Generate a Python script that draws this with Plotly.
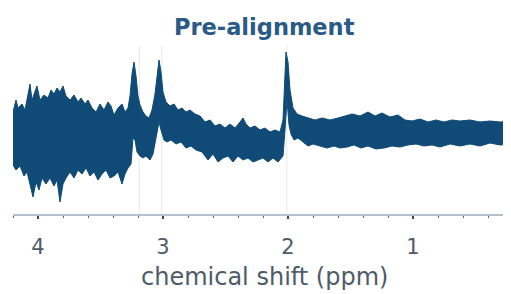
import plotly.graph_objects as go

# Upper envelope of the noisy spectrum (chemical shift in ppm, intensity a.u.)
upper_ppm = [4.200, 4.176, 4.160, 4.128, 4.104, 4.080, 4.064, 4.048, 4.024, 4.008,
             3.984, 3.952, 3.920, 3.896, 3.872, 3.848, 3.824, 3.800, 3.776, 3.744,
             3.712, 3.680, 3.656, 3.624, 3.600, 3.568, 3.536, 3.504, 3.472, 3.440,
             3.416, 3.392, 3.360, 3.328, 3.304, 3.280, 3.264, 3.248, 3.232, 3.216,
             3.200, 3.184, 3.160, 3.136, 3.112, 3.088, 3.064, 3.048, 3.032, 3.016,
             3.000, 2.976, 2.944, 2.912, 2.880, 2.848, 2.816, 2.784, 2.744, 2.704,
             2.664, 2.624, 2.584, 2.544, 2.504, 2.464, 2.424, 2.384, 2.360, 2.336,
             2.304, 2.264, 2.224, 2.184, 2.144, 2.104, 2.064, 2.040, 2.024, 2.016,
             2.000, 1.984, 1.960, 1.928, 1.888, 1.840, 1.784, 1.728, 1.664, 1.600,
             1.544, 1.488, 1.424, 1.360, 1.304, 1.248, 1.184, 1.120, 1.064, 1.008,
             0.944, 0.880, 0.816, 0.752, 0.688, 0.624, 0.544, 0.464, 0.384, 0.304,
             0.216, 0.150]
upper_int = [102, 114, 106, 110, 104, 118, 130, 114, 122, 128,
             114, 119, 116, 124, 120, 126, 122, 128, 118, 114,
             119, 112, 116, 110, 114, 106, 102, 110, 104, 112,
             108, 99, 106, 110, 102, 106, 118, 140, 152, 138,
             118, 109, 102, 98, 96, 104, 120, 140, 154, 142,
             122, 112, 108, 110, 104, 106, 102, 104, 100, 98,
             92, 94, 88, 90, 86, 90, 86, 92, 96, 90,
             86, 88, 84, 86, 82, 84, 82, 94, 144, 162,
             152, 124, 106, 100, 98, 96, 94, 96, 94, 96,
             98, 100, 98, 102, 98, 101, 97, 99, 94, 93,
             95, 92, 94, 92, 94, 93, 94, 92, 93, 92,
             93, 92]

# Lower envelope of the noisy spectrum
lower_ppm = [4.200, 4.176, 4.144, 4.112, 4.088, 4.064, 4.040, 4.016, 3.992, 3.968,
             3.936, 3.904, 3.872, 3.848, 3.824, 3.800, 3.776, 3.744, 3.712, 3.680,
             3.648, 3.616, 3.584, 3.552, 3.520, 3.488, 3.456, 3.424, 3.392, 3.360,
             3.328, 3.304, 3.280, 3.256, 3.240, 3.224, 3.208, 3.184, 3.160, 3.136,
             3.104, 3.080, 3.056, 3.032, 3.016, 2.992, 2.968, 2.936, 2.896, 2.856,
             2.816, 2.776, 2.736, 2.688, 2.640, 2.600, 2.560, 2.520, 2.480, 2.440,
             2.400, 2.360, 2.320, 2.280, 2.240, 2.200, 2.160, 2.120, 2.080, 2.040,
             2.024, 2.008, 1.992, 1.976, 1.952, 1.920, 1.880, 1.840, 1.800, 1.744,
             1.688, 1.632, 1.584, 1.528, 1.472, 1.416, 1.360, 1.296, 1.232, 1.168,
             1.104, 1.040, 0.976, 0.912, 0.848, 0.784, 0.704, 0.624, 0.544, 0.464,
             0.384, 0.304, 0.216, 0.150]
lower_int = [49, 44, 48, 38, 42, 29, 17, 32, 24, 36,
             30, 36, 28, 34, 12, 30, 36, 42, 36, 44,
             40, 46, 38, 42, 34, 40, 44, 36, 38, 42,
             30, 40, 46, 50, 76, 74, 62, 58, 56, 58,
             54, 60, 76, 92, 84, 74, 72, 74, 70, 72,
             66, 68, 64, 62, 54, 60, 52, 56, 58, 52,
             58, 54, 56, 52, 54, 56, 52, 56, 52, 58,
             84, 114, 89, 80, 74, 76, 72, 68, 70, 68,
             66, 68, 66, 67, 69, 66, 68, 65, 66, 68,
             67, 69, 70, 68, 69, 67, 70, 68, 70, 68,
             71, 69, 70, 69]

# Reference marker lines (ppm)
marker_ppm = [3.19, 3.01, 2.01]

tick_vals = [4, 3, 2, 1]
tick_text = ["4", "3", "2", "1"]

title_text = "Pre-alignment"
xlabel_text = "chemical shift (ppm)"

spec_color = "#0f4b76"

fig = go.Figure()

for m in marker_ppm:
    fig.add_trace(go.Scatter(x=[m, m], y=[0, 169], mode="lines",
                             line=dict(color="#e8e8e8", width=1),
                             hoverinfo="skip", showlegend=False))

poly_x = upper_ppm + lower_ppm[::-1]
poly_y = upper_int + lower_int[::-1]
fig.add_trace(go.Scatter(x=poly_x, y=poly_y, mode="lines", fill="toself",
                         fillcolor=spec_color,
                         line=dict(color=spec_color, width=1),
                         showlegend=False))

# page body has an 8px offset; margins compensate so the plot area sits at
# page x 13.., y 45..214
plot_w = 511 - 5
fig.update_layout(
    width=511, height=294,
    margin=dict(l=5, r=0, t=37, b=88),
    plot_bgcolor="white", paper_bgcolor="white",
    showlegend=False,
    xaxis=dict(range=[4.2, 4.2 - plot_w / 125.0], showgrid=False, zeroline=False,
               showline=True, linecolor="#b3c0cd", linewidth=2,
               tickvals=tick_vals, ticktext=tick_text,
               ticks="outside", ticklen=3, tickwidth=1.5, tickcolor="#3c4b5a",
               ticklabelstandoff=10,
               tickfont=dict(family="DejaVu Sans", size=21, color="#4e5b68"),
               minor=dict(dtick=0.2, tick0=0, ticks="outside", ticklen=2,
                          tickwidth=1, tickcolor="#5a6876")),
    yaxis=dict(range=[0, 169], visible=False, showgrid=False, zeroline=False),
    annotations=[
        dict(text="<b>" + title_text + "</b>", xref="paper", yref="paper",
             x=(264 - 13) / plot_w, y=(214 - 27) / 169, xanchor="center", yanchor="middle",
             showarrow=False,
             font=dict(family="DejaVu Sans", size=22.5, color="#2a5a86")),
        dict(text=xlabel_text, xref="paper", yref="paper",
             x=(264 - 13) / plot_w, y=-(277 - 214) / 169, xanchor="center", yanchor="middle",
             showarrow=False,
             font=dict(family="DejaVu Sans", size=24, color="#4e5b68")),
    ],
)

fig.write_html("out.html")
